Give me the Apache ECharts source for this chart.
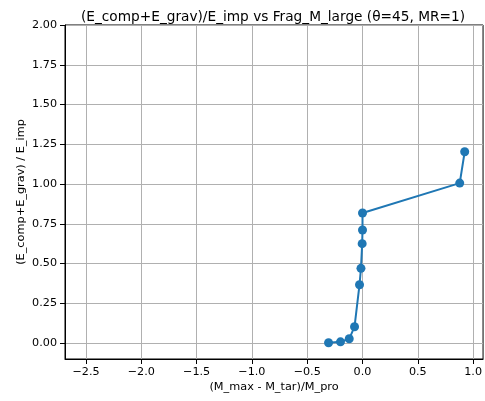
<!DOCTYPE html>
<html>
<head>
<meta charset="utf-8">
<script src="https://cdn.jsdelivr.net/npm/echarts@6/dist/echarts.min.js"></script>
<style>
    html, body { margin: 0; padding: 0; background: #fff; }
    #chart { width: 485px; height: 401px; }
</style>
</head>
<body>
<div id="chart"></div>
<script>
    // data
    const fragM = [-0.307, -0.199, -0.12, -0.072, -0.027, -0.014, -0.003, 0.0, 0.0, 0.879, 0.924]
    const energyRatio = [0.002, 0.008, 0.027, 0.103, 0.367, 0.47, 0.625, 0.711, 0.818, 1.006, 1.203]
    const xTicks = [-2.5, -2.0, -1.5, -1.0, -0.5, 0.0, 0.5, 1.0]
    const yTicks = [0, 0.25, 0.5, 0.75, 1.0, 1.25, 1.5, 1.75, 2.0]

    const font = 'DejaVu Sans'
    const minus = (s) => s.replace('-', '\u2212')

    let chart = echarts.init(document.getElementById('chart'))
    chart.setOption({
        animation: false,
        title: {
            text: '(E_comp+E_grav)/E_imp vs Frag_M_large (θ=45, MR=1)',
            left: 268,
            textAlign: 'center',
            top: 5,
            textStyle: { fontFamily: font, fontSize: 13.7, fontWeight: 'normal', color: '#000' }
        },
        grid: {
            left: 65, right: 1, top: 25, bottom: 42,
            show: true, borderColor: '#000', borderWidth: 1
        },
        xAxis: {
            type: 'value',
            min: -2.69, max: 1.09,
            name: '(M_max - M_tar)/M_pro',
            nameLocation: 'middle',
            nameGap: 23,
            nameMoveOverlap: false,
            nameTextStyle: { fontFamily: font, fontSize: 11.3, color: '#000' },
            axisLine: { show: true, onZero: false, lineStyle: { color: '#000', width: 1 } },
            axisTick: { show: true, length: 5, customValues: xTicks, lineStyle: { color: '#000' } },
            axisLabel: {
                customValues: xTicks,
                fontFamily: font, fontSize: 11.2, color: '#000', margin: 8,
                formatter: (v) => minus(v.toFixed(1))
            },
            splitLine: { show: true, lineStyle: { color: '#b0b0b0', width: 1 } }
        },
        yAxis: {
            type: 'value',
            min: -0.1, max: 2.0,
            name: '(E_comp+E_grav) / E_imp',
            nameLocation: 'middle',
            nameGap: 38,
            nameMoveOverlap: false,
            nameTextStyle: { fontFamily: font, fontSize: 11.3, color: '#000' },
            axisLine: { show: true, onZero: false, lineStyle: { color: '#000', width: 1 } },
            axisTick: { show: true, length: 5, customValues: yTicks, lineStyle: { color: '#000' } },
            axisLabel: {
                customValues: yTicks,
                fontFamily: font, fontSize: 11.2, color: '#000', margin: 8,
                formatter: (v) => minus(v.toFixed(2))
            },
            splitLine: { show: true, lineStyle: { color: '#b0b0b0', width: 1 } }
        },
        series: [{
            type: 'line',
            data: fragM.map((x, i) => [x, energyRatio[i]]),
            symbol: 'circle',
            symbolSize: 9,
            lineStyle: { color: '#1f77b4', width: 2 },
            itemStyle: { color: '#1f77b4' }
        }]
    })
</script>
</body>
</html>
